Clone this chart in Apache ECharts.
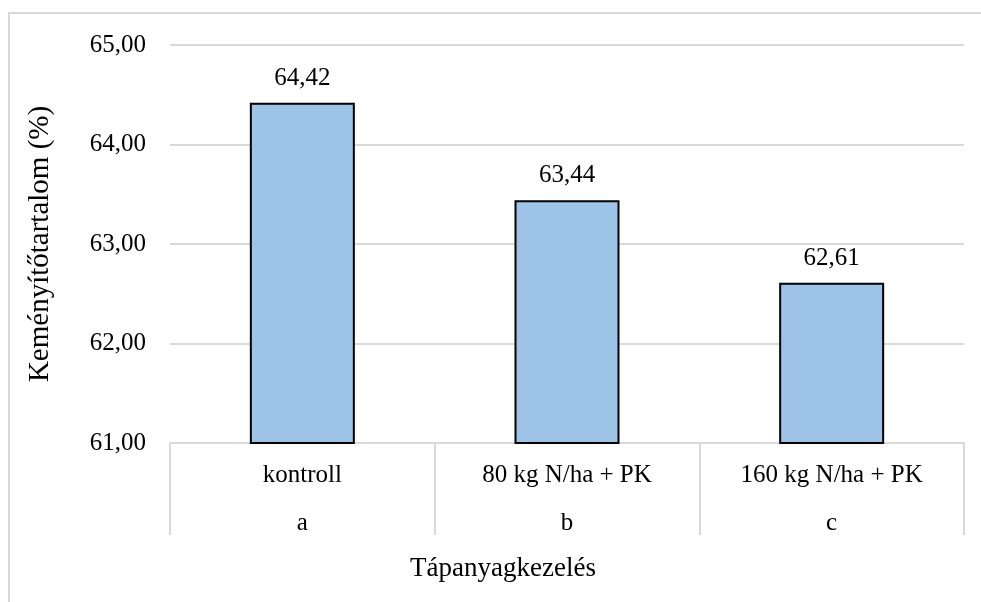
<!DOCTYPE html>
<html>
<head>
<meta charset="utf-8">
<script src="https://cdn.jsdelivr.net/npm/echarts@6/dist/echarts.min.js"></script>
<style>
html,body{margin:0;padding:0;background:#fff;}
#main{width:981px;height:602px;}
</style>
</head>
<body>
<div id="main"></div>
<script>
const categories = ['kontroll', '80 kg N/ha + PK', '160 kg N/ha + PK'];
const letters = ['a', 'b', 'c'];
const values = [64.42, 63.44, 62.61];
const yMin = 61, yMax = 65, yStep = 1;

const FONT = '"Liberation Serif", "Times New Roman", serif';
const fmt = v => v.toFixed(2).replace('.', ',');

const chart = echarts.init(document.getElementById('main'), null, {renderer: 'canvas'});
chart.setOption({
  animation: false,
  backgroundColor: '#fff',
  textStyle: {fontFamily: FONT},
  graphic: [{
    type: 'rect', silent: true,
    shape: {x: 9, y: 13, width: 1100, height: 700},
    style: {fill: 'none', stroke: '#d9d9d9', lineWidth: 2}
  }],
  grid: {left: 170, right: 17, top: 45, bottom: 159, containLabel: false},
  xAxis: {
    type: 'category',
    data: categories.map((c, i) => c + '\n' + letters[i]),
    boundaryGap: true,
    name: 'Tápanyagkezelés',
    nameLocation: 'middle',
    nameGap: 112,
    nameTextStyle: {fontFamily: FONT, fontSize: 27, color: '#000', verticalAlign: 'top', padding: [0, 128, 0, 0]},
    axisLine: {lineStyle: {color: '#d9d9d9', width: 2}},
    axisTick: {show: true, length: 92, lineStyle: {color: '#d9d9d9', width: 2}},
    axisLabel: {
      fontFamily: FONT, fontSize: 25, color: '#000',
      lineHeight: 48, margin: 8,
      verticalAlign: 'top', interval: 0
    },
    splitLine: {show: false}
  },
  yAxis: {
    type: 'value',
    min: yMin, max: yMax, interval: yStep,
    name: 'Keményítőtartalom (%)',
    nameLocation: 'middle',
    nameGap: 115,
    nameRotate: 90,
    nameTextStyle: {fontFamily: FONT, fontSize: 29, color: '#000'},
    axisLine: {show: false},
    axisTick: {show: false},
    axisLabel: {fontFamily: FONT, fontSize: 25, color: '#000', margin: 24, formatter: v => fmt(v)},
    splitLine: {lineStyle: {color: '#d9d9d9', width: 2}}
  },
  series: [{
    type: 'bar',
    data: values,
    barWidth: 105,
    itemStyle: {color: '#9dc3e6', borderColor: '#000', borderWidth: 2},
    label: {
      show: true, position: 'top', distance: 12,
      fontFamily: FONT, fontSize: 25, color: '#000',
      formatter: p => fmt(p.value)
    }
  }]
});
</script>
</body>
</html>
